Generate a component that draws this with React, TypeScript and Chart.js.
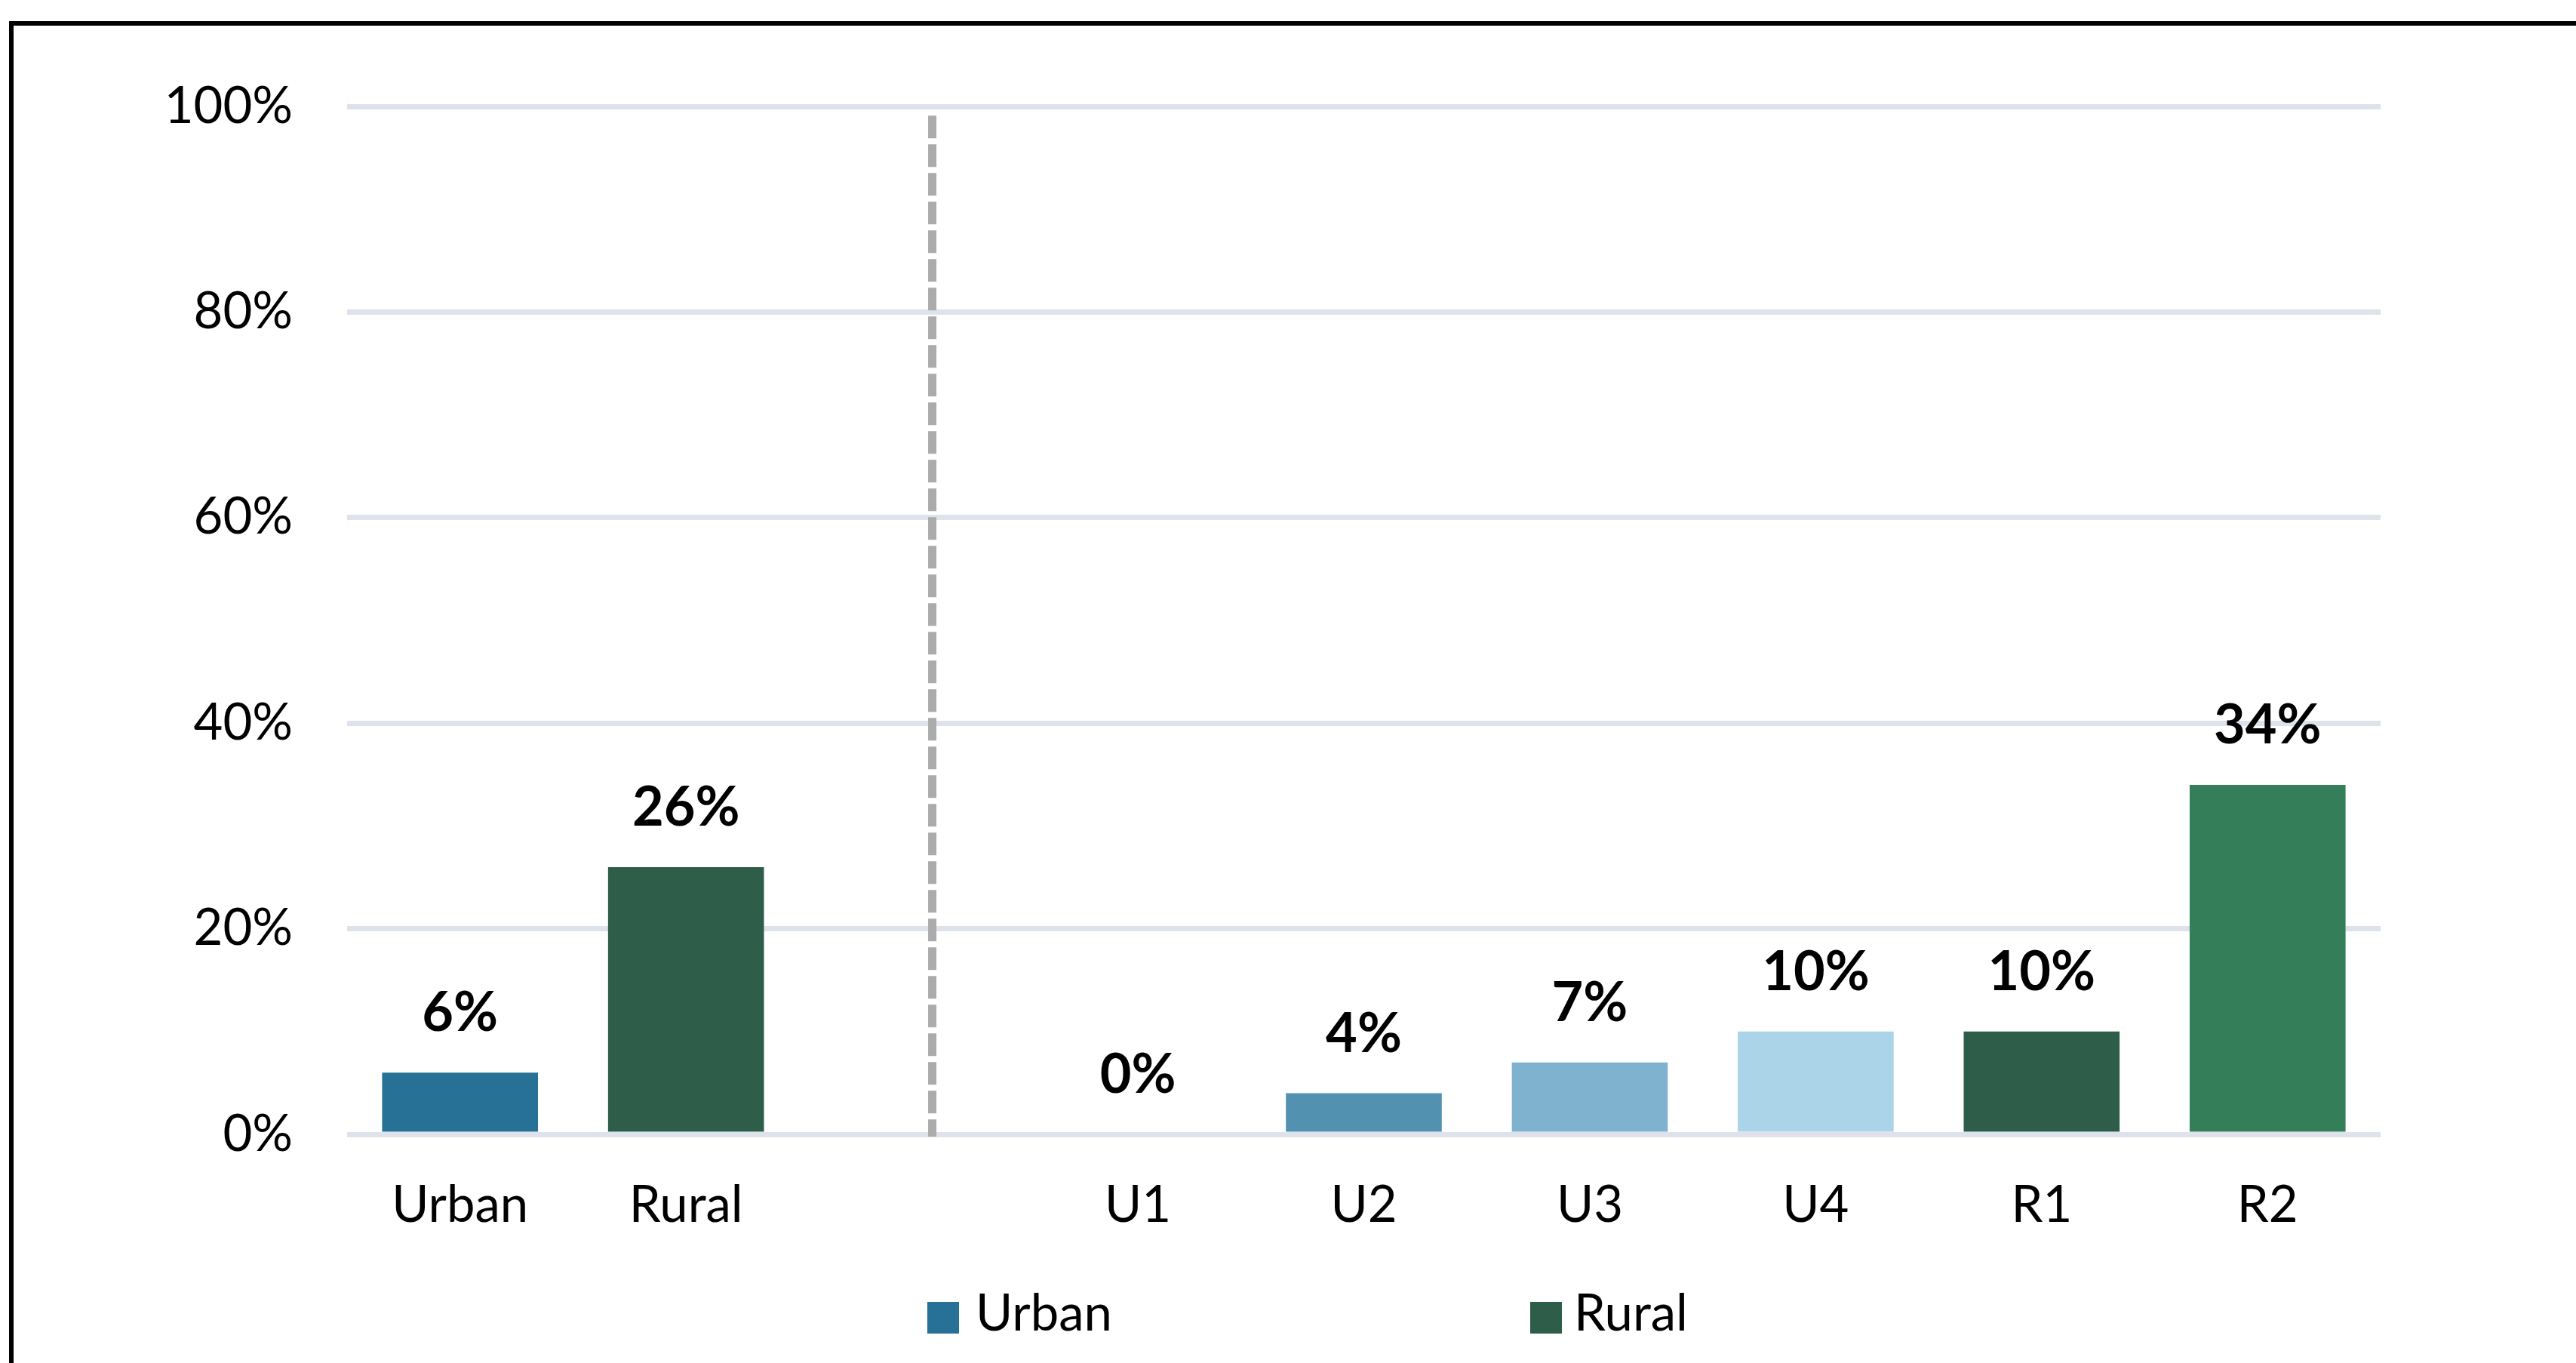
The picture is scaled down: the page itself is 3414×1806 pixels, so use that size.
import React, { useEffect, useRef } from "react";
import { Chart, registerables } from "chart.js";

Chart.register(...registerables);

const categories = ["Urban", "Rural", "", "U1", "U2", "U3", "U4", "R1", "R2"];
const values: (number | null)[] = [6, 26, null, 0, 4, 7, 10, 10, 34];
const barColors = ["#277096", "#2E5E4A", "#FFFFFF", "#277096", "#5291B0", "#7FB2CE", "#ABD4E8", "#2E5E4A", "#347E5A"];
const yTicks = [0, 20, 40, 60, 80, 100];
const legendItems = [
  { label: "Urban", color: "#277096" },
  { label: "Rural", color: "#2E5E4A" },
];
const separatorAt = 2.09; // category index units
const separatorTop = 99.1; // percent

const FONT = "Lato, 'Open Sans', sans-serif";

export default function App() {
  const ref = useRef<HTMLCanvasElement | null>(null);

  useEffect(() => {
    if (!ref.current) return;
    const separator = {
      id: "separator",
      beforeDatasetsDraw(chart: any) {
        const x = chart.scales.x.getPixelForValue(separatorAt);
        const y0 = chart.scales.y.getPixelForValue(separatorTop);
        const y1 = chart.scales.y.getPixelForValue(0) + 3;
        const ctx = chart.ctx;
        ctx.save();
        ctx.strokeStyle = "#ABABAB";
        ctx.lineWidth = 11;
        ctx.setLineDash([30, 8]);
        ctx.beginPath();
        ctx.moveTo(x, y0);
        ctx.lineTo(x, y1);
        ctx.stroke();
        ctx.restore();
      },
    };
    const labels = {
      id: "valueLabels",
      afterDatasetsDraw(chart: any) {
        const ctx = chart.ctx;
        const meta = chart.getDatasetMeta(0);
        ctx.save();
        ctx.font = `bold 72px ${FONT}`;
        ctx.fillStyle = "#000";
        ctx.textAlign = "center";
        ctx.textBaseline = "alphabetic";
        meta.data.forEach((el: any, i: number) => {
          const v = values[i];
          if (v === null || v === undefined) return;
          ctx.fillText(`${v}%`, el.x, el.y - 55);
        });
        ctx.restore();
      },
    };
    const chart = new Chart(ref.current, {
      type: "bar",
      data: {
        labels: categories,
        datasets: [
          {
            label: "Share",
            data: values as any,
            backgroundColor: barColors,
            borderWidth: 0,
            categoryPercentage: 0.69,
            barPercentage: 1,
          },
        ],
      },
      options: {
        responsive: false,
        animation: false,
        devicePixelRatio: 1,
        layout: { padding: { top: 141, right: 259, left: 0, bottom: 103 } },
        plugins: {
          legend: { display: false },
          tooltip: { enabled: false },
        },
        scales: {
          x: {
            grid: { display: false, drawTicks: false },
            border: { display: false },
            ticks: {
              padding: 54,
              color: "#000",
              font: { family: FONT, size: 67 },
              maxRotation: 0,
              autoSkip: false,
            },
            afterFit: (s: any) => {
              s.height = 200;
            },
          },
          y: {
            min: 0,
            max: 100,
            afterBuildTicks: (s: any) => {
              s.ticks = yTicks.map((v) => ({ value: v }));
            },
            grid: { color: "#DEE2EA", lineWidth: 7, drawTicks: false },
            border: { display: false },
            ticks: {
              padding: 72,
              color: "#000",
              font: { family: FONT, size: 67 },
              callback: (v: any) => `${v}%`,
            },
            afterFit: (s: any) => {
              s.width = 460;
            },
          },
        },
      },
      plugins: [separator, labels],
    });
    return () => chart.destroy();
  }, []);

  const textStyle: React.CSSProperties = {
    position: "absolute",
    fontFamily: FONT,
    fontSize: 67,
    lineHeight: "80px",
    color: "#000",
    whiteSpace: "nowrap",
  };

  const legendPos = [
    { box: 1229, text: 1293 },
    { box: 2028, text: 2086 },
  ];

  return (
    <div style={{ position: "fixed", left: 0, top: 0, width: 3414, height: 1806, overflow: "hidden", background: "#fff" }}>
      <div
        style={{
          position: "absolute",
          left: 12,
          top: 28,
          right: -20,
          bottom: -20,
          borderLeft: "6px solid #000",
          borderTop: "6px solid #000",
        }}
      />
      <canvas ref={ref} width={3414} height={1806} style={{ position: "absolute", left: 0, top: 0, width: 3414, height: 1806 }} />
      {legendItems.map((item, i) => (
        <React.Fragment key={item.label}>
          <div style={{ position: "absolute", left: legendPos[i].box, top: 1725, width: 42, height: 42, background: item.color }} />
          <div style={{ ...textStyle, left: legendPos[i].text, top: 1697 }}>{item.label}</div>
        </React.Fragment>
      ))}
    </div>
  );
}
